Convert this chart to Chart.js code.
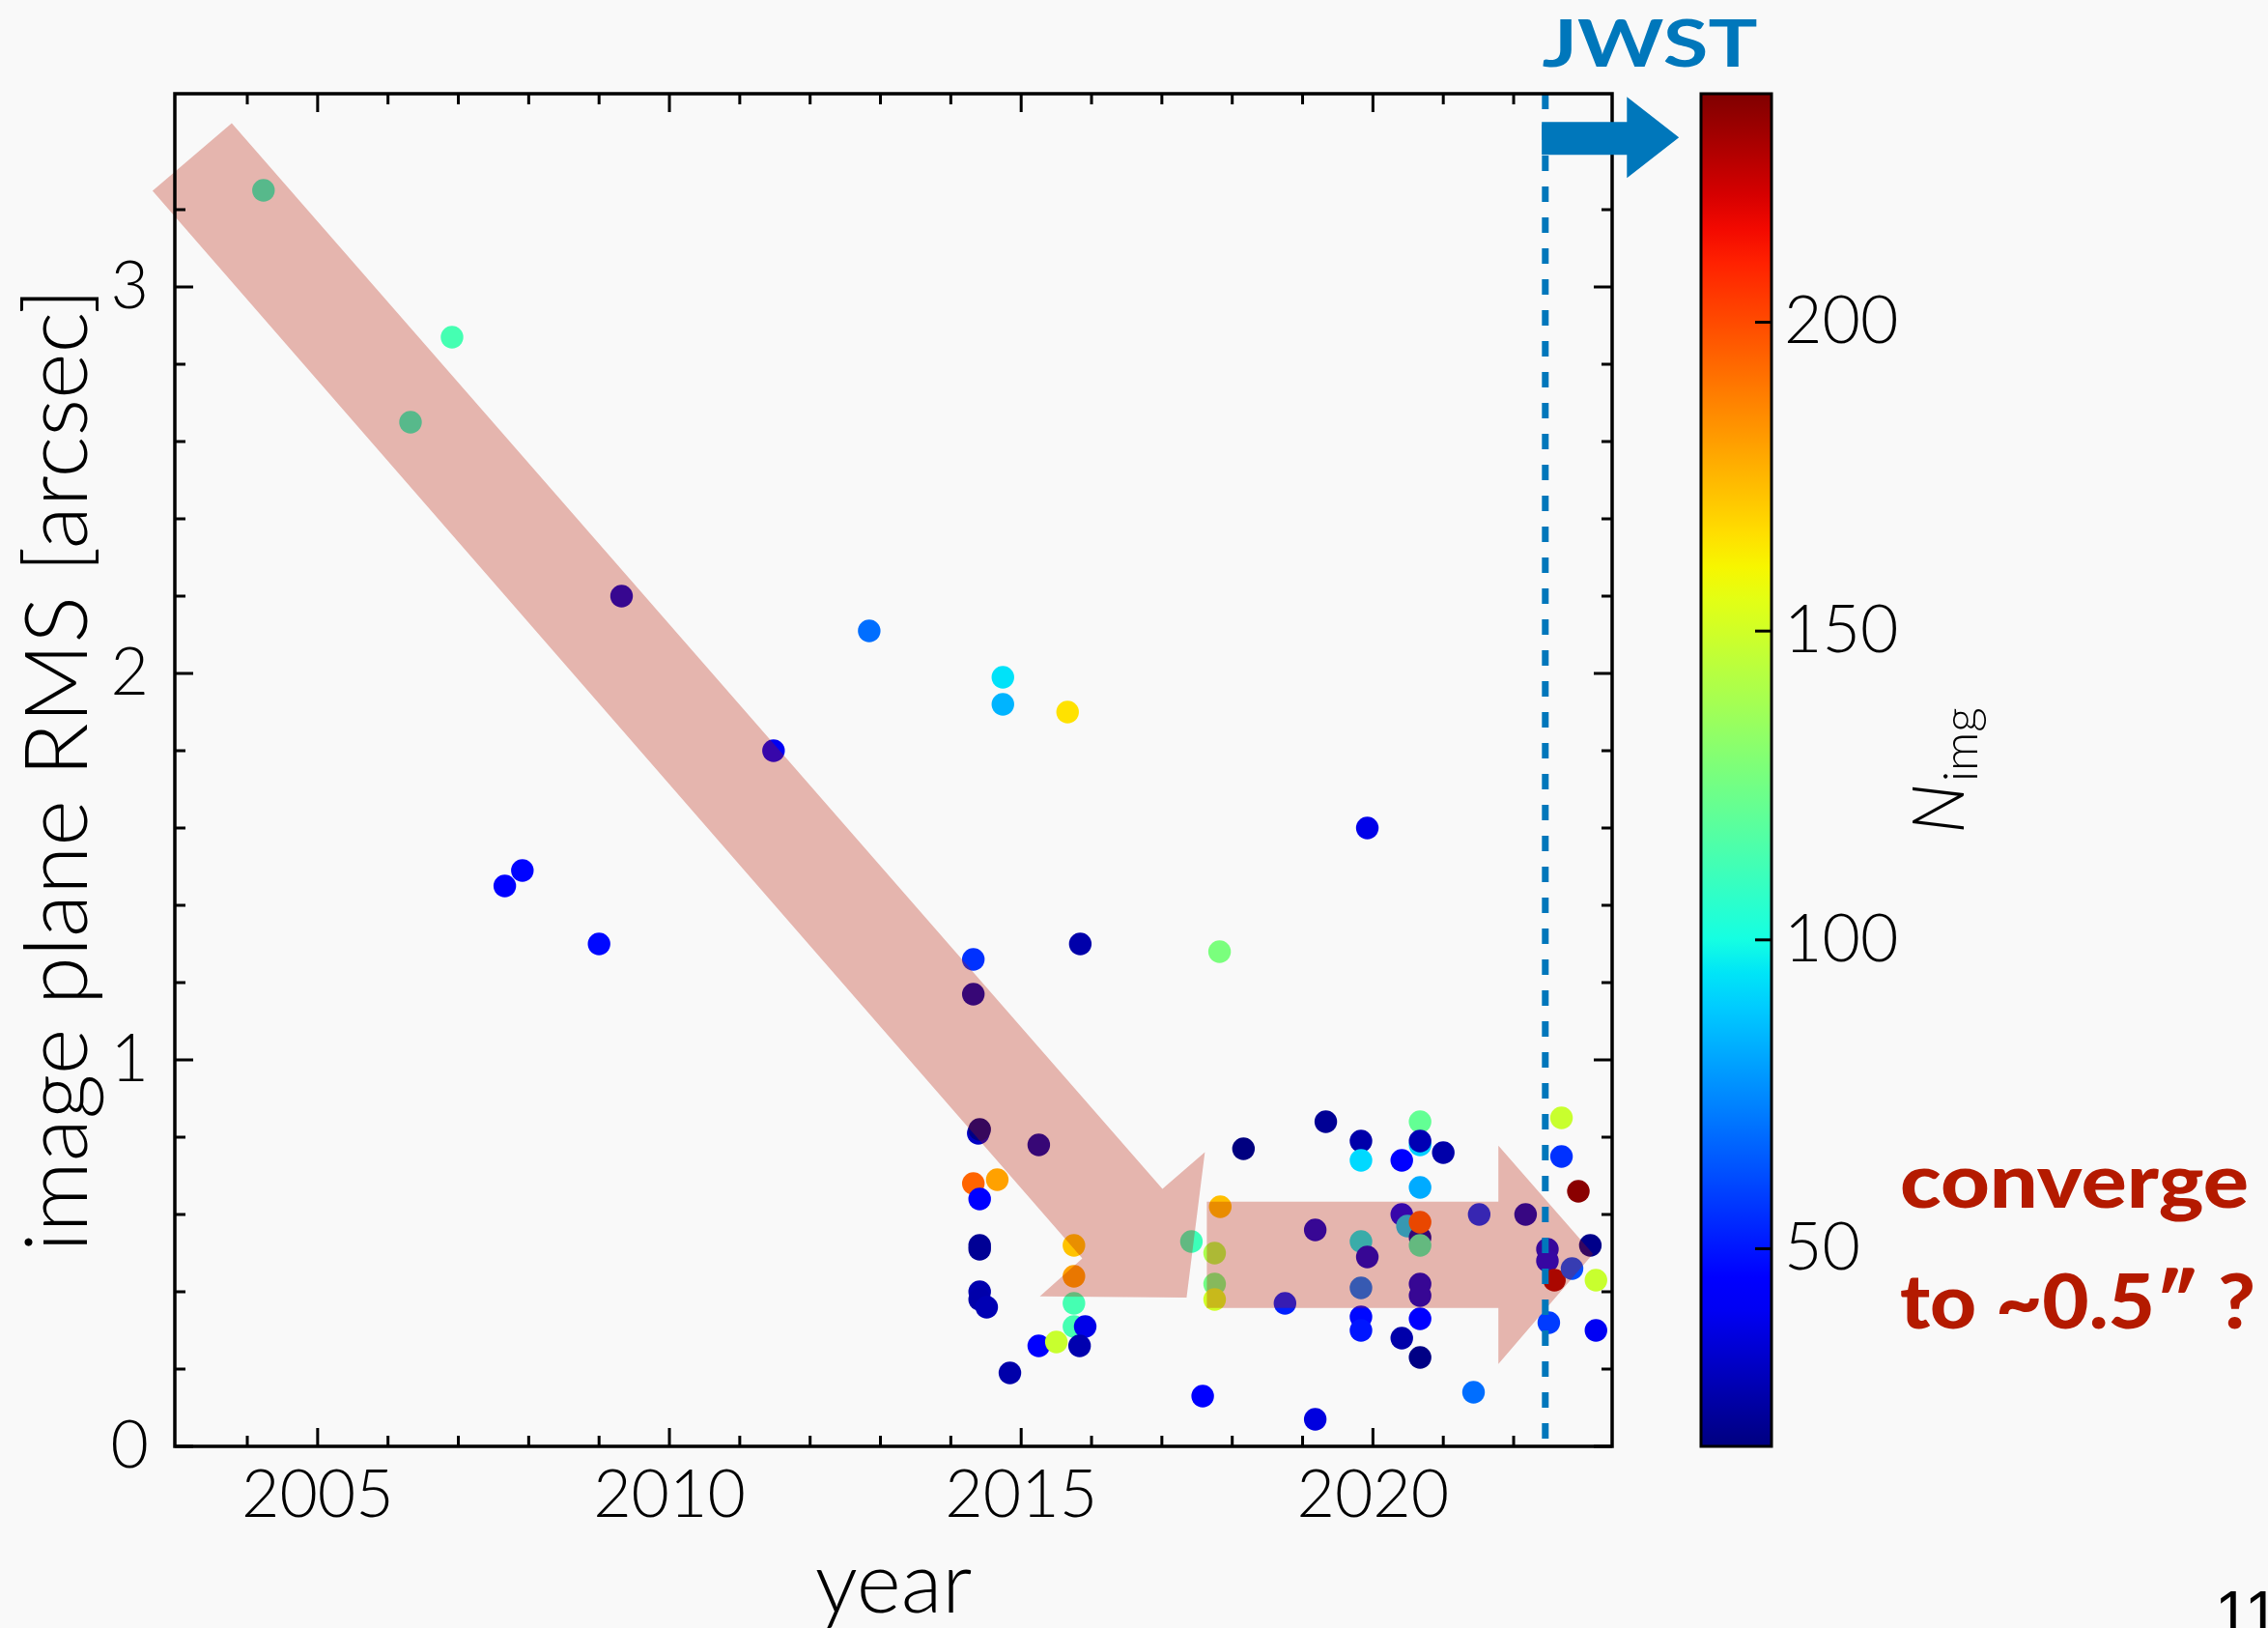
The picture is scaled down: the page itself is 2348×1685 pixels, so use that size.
<!DOCTYPE html>
<html><head><meta charset="utf-8">
<script src="https://cdn.jsdelivr.net/npm/chart.js@4/dist/chart.umd.min.js"></script>
<style>html,body{margin:0;padding:0;background:#f9f9f9;overflow:hidden}canvas{display:block}</style>
</head><body>
<canvas id="c" width="2348" height="1685" style="width:2348px;height:1685px"></canvas>
<script>
// ---- data ----
const years = [2004.23,2006.32,2006.91,2007.66,2007.91,2009.00,2009.32,2011.48,2012.84,2014.32,
  2014.32,2014.39,2014.41,2014.32,2014.66,2014.41,2014.41,2014.41,2014.41,2014.41,
  2014.51,2014.74,2014.74,2014.84,2015.25,2015.25,2015.50,2015.66,2015.75,2015.75,
  2015.75,2015.75,2015.91,2015.83,2015.84,2017.42,2017.58,2017.82,2017.83,2017.75,
  2017.75,2017.75,2018.16,2018.75,2019.18,2019.18,2019.33,2019.83,2019.83,2019.83,
  2019.92,2019.83,2019.83,2019.83,2019.92,2020.41,2020.41,2020.41,2020.49,2020.67,
  2020.67,2020.67,2020.67,2020.67,2020.67,2020.67,2020.67,2020.67,2020.67,2020.67,
  2021.00,2021.43,2021.51,2022.17,2022.48,2022.48,2022.50,2022.58,2022.68,2022.68,
  2022.83,2022.92,2023.09,2023.17,2023.17];
const rms = [3.25,2.65,2.87,1.45,1.49,1.30,2.20,1.80,2.11,1.26,
  1.17,0.81,0.82,0.68,0.69,0.64,0.52,0.51,0.40,0.38,
  0.36,1.99,1.92,0.19,0.78,0.26,0.27,1.90,0.52,0.44,
  0.37,0.31,0.31,0.26,1.30,0.53,0.13,1.28,0.62,0.50,
  0.42,0.38,0.77,0.37,0.56,0.07,0.84,0.79,0.74,0.53,
  0.49,0.41,0.335,0.30,1.60,0.74,0.60,0.28,0.57,0.84,
  0.78,0.79,0.67,0.54,0.58,0.52,0.42,0.39,0.33,0.23,
  0.76,0.14,0.60,0.60,0.51,0.48,0.32,0.43,0.85,0.75,
  0.46,0.66,0.52,0.43,0.30];
const nimg = [107,107,113,44,46,47,33,40,69,56,
  26,31,19,194,180,42,22,22,27,26,
  28,94,84,26,26,44,148,165,172,180,
  113,113,38,27,26,111,44,127,173,140,
  125,150,18,52,34,36,22,26,92,96,
  34,71,47,50,38,44,40,26,90,121,
  90,28,82,26,196,112,34,34,44,19,
  26,69,55,29,36,38,58,230,148,56,
  62,235,20,148,40];
const xTickLabels = [2005, 2010, 2015, 2020];
const yTickLabels = [0, 1, 2, 3];
const cbTickLabels = [50, 100, 150, 200];
const xRange = [2002.97, 2023.4];
const yRange = [0, 3.5];
const cbRange = [18, 237];
const jwstYear = 2022.45;
// annotation shapes, in data units (year, arcsec)
const trendArrowX = [2003.779, 2002.653, 2015.869, 2015.265, 2017.351, 2017.611, 2017.008];
const trendArrowY = [3.424, 3.249, 0.486, 0.388, 0.385, 0.761, 0.666];
const flatArrowX = [2017.639, 2021.783, 2021.783, 2023.128, 2021.783, 2021.783, 2017.639];
const flatArrowY = [0.633, 0.633, 0.778, 0.498, 0.213, 0.358, 0.358];
const jwstArrowX = [2022.40, 2023.61, 2023.61, 2024.35, 2023.61, 2023.61, 2022.40];
const jwstArrowY = [3.427, 3.427, 3.492, 3.387, 3.282, 3.342, 3.342];

// ---- jet colormap ----
const JR=[[0,0],[0.35,0],[0.66,1],[0.89,1],[1,0.5]];
const JG=[[0,0],[0.125,0],[0.375,1],[0.64,1],[0.91,0],[1,0]];
const JB=[[0,0.5],[0.11,1],[0.34,1],[0.65,0],[1,0]];
function interp(p,t){for(let i=1;i<p.length;i++){if(t<=p[i][0]){const a=p[i-1],b=p[i];return a[1]+(b[1]-a[1])*(t-a[0])/(b[0]-a[0]);}}return p[p.length-1][1];}
function jet(t){t=Math.max(0,Math.min(1,t));return 'rgb('+Math.round(255*interp(JR,t))+','+Math.round(255*interp(JG,t))+','+Math.round(255*interp(JB,t))+')';}
const norm = n => (n - cbRange[0]) / (cbRange[1] - cbRange[0]);

const FONT = 'Lato';
Chart.defaults.font.family = FONT;
Chart.defaults.color = '#000';

function poly(ctx, xs, ys, sx, sy){
  ctx.beginPath();
  xs.forEach((v,i)=>{const px=sx.getPixelForValue(v),py=sy.getPixelForValue(ys[i]); if(i) ctx.lineTo(px,py); else ctx.moveTo(px,py);});
  ctx.closePath(); ctx.fill();
}
function fitText(ctx, text, x, y, targetW, align){
  const w = ctx.measureText(text).width;
  const s = targetW / w;
  ctx.save(); ctx.translate(x, y); ctx.scale(s, 1);
  ctx.textAlign = 'left';
  const ox = align === 'center' ? -w/2 : 0;
  ctx.fillText(text, ox, 0); ctx.restore();
}

const deco = {
  id: 'deco',
  beforeDraw(chart){
    const ctx = chart.ctx; ctx.save(); ctx.fillStyle = '#f9f9f9'; ctx.fillRect(0,0,chart.width,chart.height); ctx.restore();
  },
  afterDatasetsDraw(chart){
    const {ctx, chartArea:a, scales:{x, y}} = chart;
    ctx.save();
    // translucent trend arrows
    ctx.fillStyle = 'rgba(182,24,0,0.3)';
    poly(ctx, trendArrowX, trendArrowY, x, y);
    poly(ctx, flatArrowX, flatArrowY, x, y);
    // JWST dashed line
    const jx = x.getPixelForValue(jwstYear);
    ctx.strokeStyle = '#0077bb'; ctx.lineWidth = 7; ctx.setLineDash([16,16]);
    ctx.beginPath(); ctx.moveTo(jx, a.top); ctx.lineTo(jx, a.bottom); ctx.stroke();
    ctx.setLineDash([]);
    // spines
    ctx.strokeStyle = '#000'; ctx.lineWidth = 3.5;
    ctx.strokeRect(a.left, a.top, a.right - a.left, a.bottom - a.top);
    // inward ticks on all four sides
    ctx.lineWidth = 3;
    x.ticks.forEach(t => {
      const v = t.value; if (Math.abs(v - Math.round(v)) > 1e-6) return;
      const px = x.getPixelForValue(v); if (px < a.left + 3 || px > a.right - 3) return;
      const L = xTickLabels.includes(Math.round(v)) ? 19 : 11;
      ctx.beginPath(); ctx.moveTo(px, a.bottom); ctx.lineTo(px, a.bottom - L);
      ctx.moveTo(px, a.top); ctx.lineTo(px, a.top + L); ctx.stroke();
    });
    y.ticks.forEach(t => {
      const v = t.value; if (Math.abs(v*5 - Math.round(v*5)) > 1e-6) return;
      const py = y.getPixelForValue(v);
      const L = yTickLabels.some(k => Math.abs(k - v) < 1e-6) ? 19 : 11;
      ctx.beginPath(); ctx.moveTo(a.left, py); ctx.lineTo(a.left + L, py);
      ctx.moveTo(a.right, py); ctx.lineTo(a.right - L, py); ctx.stroke();
    });
    ctx.restore();
  },
  afterDraw(chart){
    const {ctx, chartArea:a, scales:{x, y, cb}} = chart;
    ctx.save();
    // colorbar
    const cL = a.right + 92, cR = a.right + 165;
    const cT = cb.getPixelForValue(cbRange[1]), cBt = cb.getPixelForValue(cbRange[0]);
    const g = ctx.createLinearGradient(0, cBt, 0, cT);
    for (let i = 0; i <= 40; i++) g.addColorStop(i/40, jet(i/40));
    ctx.fillStyle = g; ctx.fillRect(cL, cT, cR - cL, cBt - cT);
    ctx.strokeStyle = '#000'; ctx.lineWidth = 3;
    cbTickLabels.forEach(v => { const py = cb.getPixelForValue(v); ctx.beginPath(); ctx.moveTo(cR - 17, py); ctx.lineTo(cR, py); ctx.stroke(); });
    ctx.strokeRect(cL, cT, cR - cL, cBt - cT);
    // colorbar label N_img
    ctx.save(); ctx.translate(2033, 863); ctx.rotate(-Math.PI/2);
    ctx.fillStyle = '#000'; ctx.textBaseline = 'alphabetic'; ctx.textAlign = 'left';
    ctx.font = 'italic 300 74px ' + FONT; ctx.fillText('N', 0, 0);
    const wN = ctx.measureText('N').width;
    ctx.font = '300 50px ' + FONT; ctx.fillText('img', wN + 2, 14);
    ctx.restore();
    // JWST arrow and label
    ctx.fillStyle = '#0077bb';
    poly(ctx, jwstArrowX, jwstArrowY, x, y);
    ctx.font = '700 66px ' + FONT; ctx.textBaseline = 'alphabetic';
    fitText(ctx, 'JWST', 1708, 69, 223, 'center');
    // converge text
    ctx.fillStyle = '#b41a00';
    ctx.font = '900 78px ' + FONT;
    fitText(ctx, 'converge', 1967, 1250, 361, 'left');
    fitText(ctx, 'to ~0.5\u2033 ?', 1967, 1375, 368, 'left');
    // page number (cut off at bottom)
    ctx.fillStyle = '#000'; ctx.font = '64px "Liberation Sans"';
    ctx.fillText('11', 2293, 1692);
    ctx.restore();
  }
};

new Chart(document.getElementById('c'), {
  type: 'scatter',
  data: { datasets: [{
    data: years.map((v, i) => ({x: v, y: rms[i]})),
    backgroundColor: nimg.map(n => jet(norm(n))),
    pointBackgroundColor: nimg.map(n => jet(norm(n))),
    pointRadius: 11.7, pointHoverRadius: 11.7, pointBorderWidth: 0, borderWidth: 0
  }]},
  options: {
    responsive: false, animation: false, devicePixelRatio: 1,
    layout: { padding: {top: 97, left: 0, right: 0, bottom: 0}, autoPadding: false },
    plugins: { legend: {display: false}, tooltip: {enabled: false} },
    scales: {
      x: { type: 'linear', position: 'bottom', min: xRange[0], max: xRange[1],
        grid: {display: false}, border: {display: false},
        ticks: { stepSize: 1, autoSkip: false, maxRotation: 0, padding: 2, color: '#000',
          font: {size: 68, weight: 300},
          callback: v => xTickLabels.includes(v) ? String(v) : '' },
        title: { display: true, text: 'year', color: '#000', font: {size: 88, weight: 300, lineHeight: 0.8}, padding: {top: 0, bottom: 9} },
        afterFit: s => { s.height = 188; } },
      y: { type: 'linear', position: 'left', min: yRange[0], max: yRange[1],
        grid: {display: false}, border: {display: false},
        ticks: { stepSize: 0.2, autoSkip: false, padding: 19, color: '#000', font: {size: 68, weight: 300},
          callback: v => yTickLabels.some(k => Math.abs(k - v) < 1e-6) ? String(Math.round(v)) : '' },
        title: { display: true, text: 'image plane RMS [arcsec]', color: '#000', font: {size: 91, weight: 300}, padding: {top: 6, bottom: 0} },
        afterFit: s => { s.width = 181; } },
      cb: { type: 'linear', position: 'right', min: cbRange[0], max: cbRange[1],
        grid: {display: true, drawOnChartArea: false, drawTicks: true, tickLength: 176, tickColor: 'rgba(0,0,0,0)'},
        border: {display: false},
        ticks: { stepSize: 50, autoSkip: false, padding: 2, color: '#000', font: {size: 68, weight: 300},
          callback: v => cbTickLabels.includes(v) ? String(v) : '' },
        afterFit: s => { s.width = 679; } }
    }
  },
  plugins: [deco]
});
</script>
</body></html>
